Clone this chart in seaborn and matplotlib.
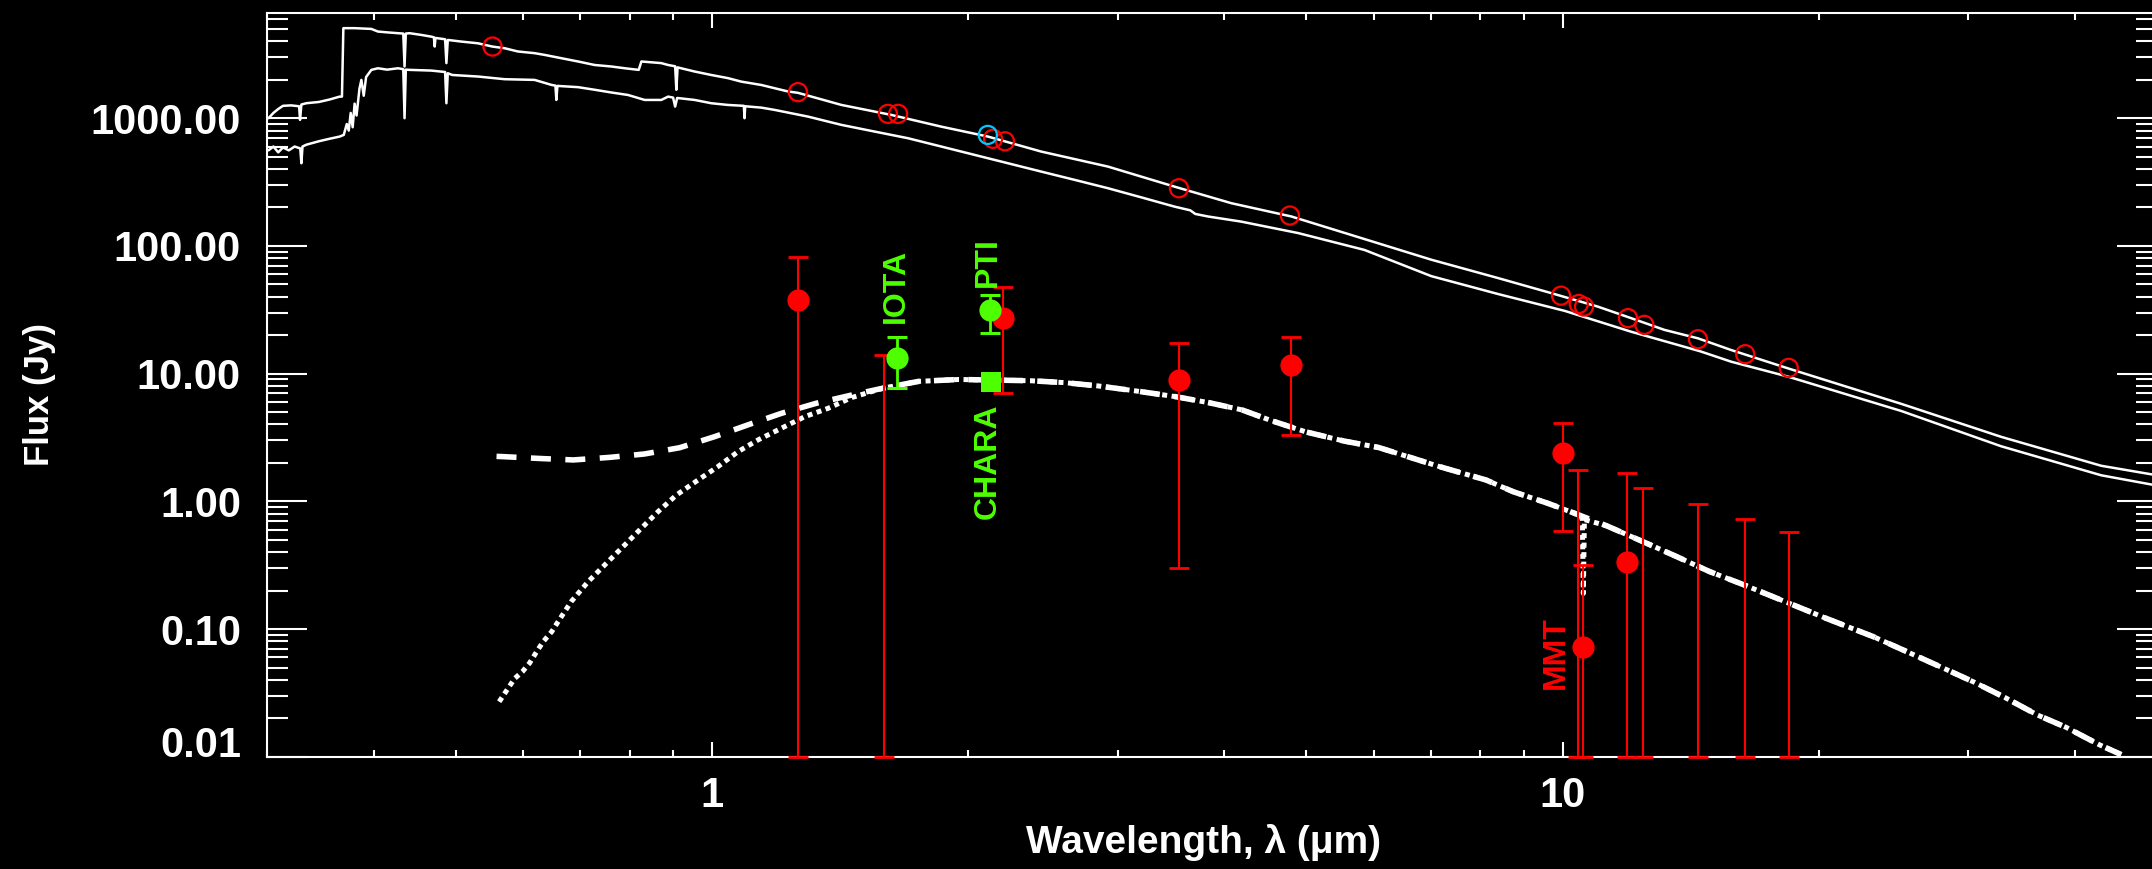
import numpy as np
import pandas as pd
import matplotlib
matplotlib.use("Agg")
import matplotlib.pyplot as plt
import seaborn as sns
from matplotlib import font_manager as fm
from matplotlib.ticker import FixedLocator, LogLocator, FuncFormatter, NullFormatter
from matplotlib.transforms import ScaledTranslation

# ---------------- data ----------------
# stellar photosphere model, upper curve (wavelength um, flux Jy)
upper_wl = [0.301, 0.305, 0.309, 0.313, 0.320, 0.3270, 0.3278, 0.3290, 0.3334, 0.345, 0.355,
            0.3649, 0.3672, 0.3686, 0.380, 0.3976, 0.4048, 0.415, 0.4274, 0.4335, 0.4350, 0.4365,
            0.441, 0.455, 0.4677, 0.4710, 0.4720, 0.4730, 0.4855, 0.4872, 0.4890, 0.5074, 0.5306,
            0.5516, 0.5705, 0.5912, 0.6186, 0.6357, 0.665, 0.6959, 0.7278, 0.7614, 0.790, 0.820,
            0.826, 0.8717, 0.888, 0.9050, 0.9080, 0.9110, 0.920, 0.9541, 0.998, 1.044, 1.082,
            1.143, 1.228, 1.262, 1.419, 1.625, 1.860, 2.111, 2.438, 2.921, 3.499, 4.08, 4.80,
            7.01, 8.40, 9.70, 11.0, 12.04, 13.18, 14.43, 15.79, 18.41, 25.02, 32.79, 42.99, 50.0]
upper_flux = [1000, 1100, 1180, 1250, 1260, 1240, 970, 1280, 1310, 1340, 1400,
              1476, 1476, 5070, 5070, 5000, 4770, 4700, 4630, 4600, 2540, 4600,
              4630, 4490, 4350, 4300, 3640, 4250, 4150, 2700, 4100, 3980, 3860,
              3640, 3530, 3330, 3230, 3130, 2950, 2780, 2610, 2540, 2460, 2390,
              2780, 2700, 2610, 2550, 1670, 2500, 2460, 2320, 2180, 2060, 1935,
              1820, 1620, 1580, 1271, 1061, 859, 718, 548, 418, 291, 216, 170,
              78, 56, 42.7, 33.5, 27.2, 22.0, 18.9, 15.3, 11.0, 5.8, 3.2, 1.9, 1.6]

# stellar photosphere model, lower curve
lower_wl = [0.301, 0.305, 0.309, 0.313, 0.318, 0.323, 0.3280, 0.3290, 0.3300, 0.3334, 0.345,
            0.355, 0.3649, 0.3690, 0.3720, 0.3740, 0.3760, 0.3780, 0.3800, 0.3820, 0.3850,
            0.3870, 0.3895, 0.3920, 0.3976, 0.4048, 0.415, 0.4274, 0.4335, 0.4350, 0.4365,
            0.441, 0.4677, 0.4855, 0.4872, 0.4890, 0.495, 0.5306, 0.5705, 0.6186, 0.648,
            0.6545, 0.6561, 0.6580, 0.6959, 0.7278, 0.7614, 0.7966, 0.8333, 0.8717, 0.888,
            0.900, 0.9050, 0.9100, 0.954, 0.998, 1.044, 1.090, 1.0920, 1.0940, 1.143, 1.185,
            1.297, 1.419, 1.553, 1.70, 1.860, 2.036, 2.228, 2.438, 2.669, 2.921, 3.197, 3.499,
            3.65, 3.70, 3.83, 4.19, 4.89, 5.85, 7.01, 8.40, 10.06, 12.04, 14.5, 15.79, 18.41,
            25.02, 32.79, 42.99, 50.0]
lower_flux = [560, 600, 540, 590, 560, 600, 580, 444, 600, 620, 660,
              690, 718, 740, 900, 800, 1100, 850, 1300, 1050, 1700,
              1995, 1500, 2100, 2390, 2460, 2400, 2460, 2420, 1000, 2400,
              2390, 2360, 2300, 1310, 2250, 2180, 2120, 2020, 1995, 1820,
              1800, 1390, 1790, 1750, 1670, 1590, 1520, 1390, 1390, 1476,
              1450, 1233, 1440, 1390, 1310, 1270, 1250, 1000, 1240, 1210, 1161,
              1029, 887, 786, 697, 600, 516, 444, 382, 329, 283, 240, 203,
              190, 178, 170, 155, 126, 93, 58, 42, 31, 21.3, 15.0, 12.4, 9.48,
              5.1, 2.7, 1.6, 1.33]

# total excess model (dashed)
disk_wl = [0.558, 0.568, 0.624, 0.687, 0.758, 0.833, 0.916, 1.007, 1.102, 1.208, 1.326, 1.461,
           1.588, 1.75, 1.95, 2.16, 2.37, 2.60, 2.85, 3.16, 3.51, 3.85, 4.20, 4.54, 4.99, 5.53,
           6.08, 7.17, 8.13, 8.75, 9.61, 10.33, 11.26, 12.43, 13.54, 14.89, 16.37, 18.07, 20.4,
           23.2, 25.5, 27.9, 30.5, 33.1, 36.2, 39.1, 42.8, 45.4]
disk_flux = [2.25, 2.24, 2.17, 2.11, 2.21, 2.35, 2.63, 3.21, 3.97, 4.90, 5.86, 6.81,
             7.69, 8.7, 9.0, 8.9, 8.8, 8.5, 8.0, 7.3, 6.6, 5.9, 5.2, 4.3, 3.5, 2.97,
             2.64, 1.87, 1.47, 1.19, 0.966, 0.807, 0.645, 0.484, 0.376, 0.282, 0.221, 0.169, 0.1216,
             0.0872, 0.0658, 0.0502, 0.0383, 0.0292, 0.0212, 0.017, 0.0124, 0.0104]

# hot component model (dotted), with the 10.6 um feature
hot_wl = [0.562, 0.586, 0.5985, 0.610, 0.622, 0.633, 0.648, 0.659, 0.683, 0.715, 0.748, 0.786,
          0.822, 0.864, 0.908, 0.963, 1.016, 1.073, 1.133, 1.206, 1.285, 1.369, 1.46,
          1.588, 1.75, 1.95, 2.16, 2.37, 2.60, 2.85, 3.16, 3.51, 3.85, 4.20, 4.54, 4.99, 5.53,
          6.08, 7.17, 8.13, 8.75, 9.61, 10.33, 10.55, 10.58, 10.61, 11.26, 12.43, 13.54, 14.89,
          16.37, 18.07, 20.4, 23.2, 25.5, 27.9, 30.5, 33.1, 36.2, 39.1, 42.8, 45.4]
hot_flux = [0.027, 0.041, 0.0464, 0.054, 0.0665, 0.0796, 0.0955, 0.114, 0.164, 0.235, 0.318, 0.442,
            0.597, 0.830, 1.12, 1.47, 1.87, 2.45, 3.03, 3.73, 4.60, 5.35, 6.5,
            7.69, 8.7, 9.0, 8.9, 8.8, 8.5, 8.0, 7.3, 6.6, 5.9, 5.2, 4.3, 3.5, 2.97,
            2.64, 1.87, 1.47, 1.19, 0.966, 0.807, 0.74, 0.19, 0.72, 0.645, 0.484, 0.376, 0.282,
            0.221, 0.169, 0.1216, 0.0872, 0.0658, 0.0502, 0.0383, 0.0292, 0.0212, 0.017, 0.0124, 0.0104]

# photometry (open circles)
phot_wl = [0.552, 1.262, 1.61, 1.655, 2.14, 2.21, 3.54, 4.78, 9.96, 10.45, 10.60, 11.94,
           12.48, 14.43, 16.4, 18.45]
phot_flux = [3640, 1600, 1082, 1082, 690, 660, 283, 173, 40.8, 35.1, 33.5, 27.2,
             24.1, 18.6, 14.2, 11.1]
cyan_wl = [2.11]
cyan_flux = [740]

# excess measurements (filled red) with error ranges
exc_wl = [1.263, 1.595, 2.20, 3.54, 4.79, 10.0, 10.44, 10.58, 11.92, 12.45, 14.45, 16.41, 18.45]
exc_flux = [37.8, np.nan, 27.2, 8.93, 11.7, 2.38, np.nan, 0.0728, 0.337, np.nan, np.nan, np.nan, np.nan]
exc_low = [0.01, 0.01, 7.1, 0.30, 3.3, 0.59, 0.01, 0.01, 0.01, 0.01, 0.01, 0.01, 0.01]
exc_high = [82.5, 14.0, 47.5, 17.5, 19.5, 4.09, 1.76, 0.318, 1.68, 1.27, 0.955, 0.728, 0.58]

# interferometric excesses (green)
interf_wl = [1.652, 2.12]
interf_flux = [13.2, 31.5]
interf_low = [7.7, 20.9]
interf_high = [19.3, 41.3]
chara_wl = [2.13]
chara_flux = [8.66]

label_text = ["IOTA", "PTI", "CHARA", "MMT"]
label_wl = [1.646, 2.11, 2.11, 9.82]
label_flux = [49.0, 74.3, 2.05, 0.0656]
label_color = ["#4dff00", "#4dff00", "#4dff00", "#ff0000"]

y_ticks = [0.01, 0.1, 1, 10, 100, 1000]
x_ticks = [1, 10]
x_range = [0.3, 50]
y_range = [0.01, 6700]

RED = "#ff0000"
GREEN = "#4dff00"
CYAN = "#00c8ff"

# ---------------- style ----------------
sns.set_theme(style="ticks", rc={
    "figure.facecolor": "black", "axes.facecolor": "black", "savefig.facecolor": "black",
    "axes.edgecolor": "white", "text.color": "white", "axes.labelcolor": "white",
    "xtick.color": "white", "ytick.color": "white", "axes.grid": False,
})
names = {f.name for f in fm.fontManager.ttflist}
base = "Liberation Sans" if "Liberation Sans" in names else "DejaVu Sans"
narrow = "Liberation Sans Narrow" if "Liberation Sans Narrow" in names else None
plt.rcParams["font.family"] = [base, "DejaVu Sans"]
plt.rcParams["font.weight"] = "bold"

fig = plt.figure(figsize=(21.52, 8.69), dpi=100)
L, R, T, B = 267.3, 2157.0, 12.7, 756.8
ax = fig.add_axes([L / 2152, 1 - B / 869, (R - L) / 2152, (B - T) / 869])
ax.set_xscale("log")
ax.set_yscale("log")

# model curves
sns.lineplot(x=upper_wl, y=upper_flux, ax=ax, color="white", lw=1.8, sort=False, estimator=None)
sns.lineplot(x=lower_wl, y=lower_flux, ax=ax, color="white", lw=1.8, sort=False, estimator=None)
sns.lineplot(x=disk_wl, y=disk_flux, ax=ax, color="white", lw=4.0, sort=False, estimator=None,
             linestyle=(0, (3.6, 2.6)))
sns.lineplot(x=hot_wl, y=hot_flux, ax=ax, color="white", lw=3.6, sort=False, estimator=None,
             linestyle=(0, (1.0, 0.9)))

# photometry rings
sns.scatterplot(x=phot_wl, y=phot_flux, ax=ax, marker="o", s=170, color=RED,
                facecolors="none", edgecolor=RED, linewidth=1.6, zorder=4)
sns.scatterplot(x=cyan_wl, y=cyan_flux, ax=ax, marker="o", s=170, color=CYAN,
                facecolors="none", edgecolor=CYAN, linewidth=1.6, zorder=4)

# excess error bars and points
lo = np.array(exc_low)
hi = np.array(exc_high)
ax.errorbar(exc_wl, lo, yerr=[np.zeros_like(lo), hi - lo], fmt="none", ecolor=RED,
            elinewidth=1.5, capsize=7.2, capthick=2.0, zorder=5, clip_on=False)
sns.scatterplot(x=exc_wl, y=exc_flux, ax=ax, marker="o", s=256, color=RED,
                linewidth=0, zorder=6)

ilo = np.array(interf_low)
ihi = np.array(interf_high)
ax.errorbar(interf_wl, ilo, yerr=[np.zeros_like(ilo), ihi - ilo], fmt="none", ecolor=GREEN,
            elinewidth=2.0, capsize=7.0, capthick=2.2, zorder=7)
sns.scatterplot(x=interf_wl, y=interf_flux, ax=ax, marker="o", s=256, color=GREEN,
                linewidth=0, zorder=8)
sns.scatterplot(x=chara_wl, y=chara_flux, ax=ax, marker="s", s=210, color=GREEN,
                linewidth=0, zorder=8)

# labels
lab_kw = dict(rotation=90, ha="center", va="center", fontweight="bold", zorder=9)
if narrow:
    lab_kw["family"] = [narrow, "DejaVu Sans"]
    lab_size = 27
else:
    lab_size = 23
for t, xw, yf, c in zip(label_text, label_wl, label_flux, label_color):
    ax.text(xw, yf, t, color=c, fontsize=lab_size, **lab_kw)

# axes
ax.set_xlim(*x_range)
ax.set_ylim(*y_range)
ax.xaxis.set_major_locator(FixedLocator(x_ticks))
ax.xaxis.set_minor_locator(LogLocator(base=10, subs=np.arange(2, 10)))
ax.xaxis.set_major_formatter(FuncFormatter(lambda v, p: f"{v:g}"))
ax.xaxis.set_minor_formatter(NullFormatter())
ax.yaxis.set_major_locator(FixedLocator(y_ticks))
ax.yaxis.set_minor_locator(LogLocator(base=10, subs=np.arange(2, 10), numticks=20))
ax.yaxis.set_major_formatter(FuncFormatter(lambda v, p: f"{v:.2f}"))
ax.yaxis.set_minor_formatter(NullFormatter())

ax.tick_params(which="both", direction="in", top=True, bottom=True, left=True, right=True,
               colors="white", width=1.5)
ax.tick_params(axis="y", which="major", length=29, pad=19, labelsize=30)
ax.tick_params(axis="y", which="minor", length=15)
ax.tick_params(axis="x", which="major", length=11, pad=14, labelsize=30)
ax.tick_params(axis="x", which="minor", length=5)
for s in ax.spines.values():
    s.set_color("white")
    s.set_linewidth(1.5)

ylab_kw = {}
if narrow:
    ylab_kw["family"] = [narrow, "DejaVu Sans"]
    ysize = 30
else:
    ysize = 25
ax.set_ylabel("Flux (Jy)", fontsize=ysize, fontweight="bold", **ylab_kw)
ax.yaxis.label.set_ha("center")
ax.yaxis.label.set_va("center")
ax.yaxis.set_label_coords((40 - L) / (R - L), (B - 395) / (B - T))

ax.set_xlabel("Wavelength, λ (μm)", fontsize=28, fontweight="bold")
ax.xaxis.label.set_va("baseline")
ax.xaxis.set_label_coords((1204 - L) / (R - L), (B - 853) / (B - T))

fig.canvas.draw()
t0 = ax.yaxis.get_major_ticks()[0].label1
t0.set_transform(t0.get_transform() + ScaledTranslation(0, 15 / 100, fig.dpi_scale_trans))

fig.savefig("out.png", dpi=100, facecolor="black")
